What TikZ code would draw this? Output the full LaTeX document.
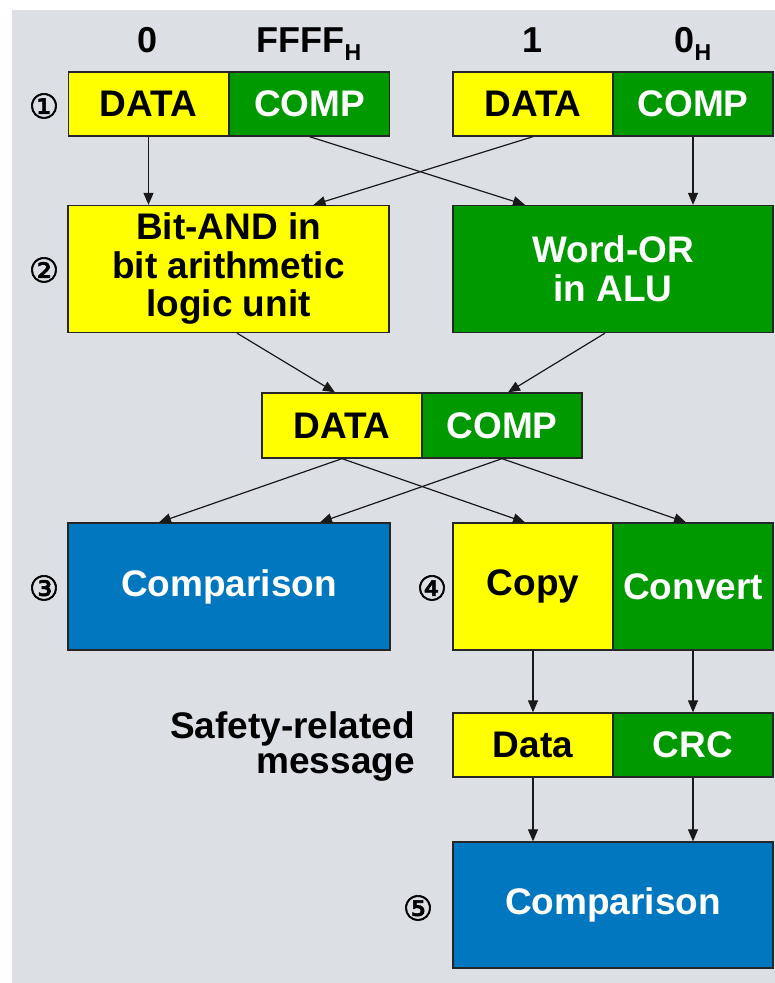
\documentclass[tikz,border=0pt]{standalone}
\usepackage{fontspec}
\setmainfont{Liberation Sans}
\newfontfamily\circfont[FakeBold=1.8]{DejaVu Sans}
\usetikzlibrary{arrows.meta}
\definecolor{bggray}{RGB}{220,224,228}
\definecolor{boxyellow}{RGB}{255,255,0}
\definecolor{boxgreen}{RGB}{0,153,0}
\definecolor{boxblue}{RGB}{0,119,190}
\newcommand{\subH}{\raisebox{-8pt}{\fontsize{23}{23}\selectfont H}}

\begin{document}
\begin{tikzpicture}[x=1pt,y=-1pt,
  box/.style={draw=black!85, line width=1.3pt, rectangle, inner sep=0pt,
    font=\fontsize{37}{38.5}\selectfont\bfseries, align=center},
  ybox/.style={box, fill=boxyellow, text=black},
  gbox/.style={box, fill=boxgreen, text=white},
  bbox/.style={box, fill=boxblue, text=white},
  half/.style={minimum width=160pt, minimum height=64pt},
  big/.style={minimum width=321pt, minimum height=127pt},
  arr/.style={line width=1.2pt, draw=black!90, -{Triangle[length=12pt,width=10pt]}},
  num/.style={font=\circfont\fontsize{34}{34}\selectfont, inner sep=0pt},
  toplbl/.style={font=\fontsize{36}{36}\selectfont\bfseries, anchor=base, inner sep=0pt},
  sidelbl/.style={font=\fontsize{37}{35}\selectfont\bfseries, align=right, inner sep=0pt}
]
% canvas
\useasboundingbox (0,0) rectangle (775,983);
\fill[white] (0,0) rectangle (775,983);
\fill[bggray] (12,10) rectangle (775,983);

% input values
\node[toplbl] (v0) at (148,52) {0};
\node[toplbl] (vF) at (309,52) {FFFF\subH};
\node[toplbl] (v1) at (533,52) {1};
\node[toplbl] (v0H) at (693,52) {0\subH};

% step 1: two data/complement pairs
\node[num] (n1) at (44,106) {①};
\node[ybox, half] (d1) at (148.5,104) {DATA};
\node[gbox, half] (c1) at (309.5,104) {COMP};
\node[ybox, half] (d2) at (533,104) {DATA};
\node[gbox, half] (c2) at (693,104) {COMP};

% step 2: logic operations
\node[num] (n2) at (44,270) {②};
\node[ybox, big] (band) at (228.5,269) {Bit-AND in\\bit arithmetic\\logic unit};
\node[gbox, big, minimum width=320pt] (wor) at (613,269) {Word-OR\\in ALU};

% combined pair
\node[ybox, half, minimum height=65pt] (d3) at (342,425.5) {DATA};
\node[gbox, half, minimum height=65pt] (c3) at (502,425.5) {COMP};

% steps 3 and 4
\node[num] (n3) at (44,588) {③};
\node[bbox, big, minimum width=322pt] (cmp1) at (229,586.5) {Comparison};
\node[num] (n4) at (432,588) {④};
\node[ybox, half, minimum height=127pt] (copy) at (533,586.5) {Copy};
\node[gbox, half, minimum height=127pt] (conv) at (693,586.5) {Convert};

% safety-related message
\node[sidelbl, anchor=east] (msg) at (415,747) {Safety-related\\message};
\node[ybox, half] (d5) at (533,745) {Data};
\node[gbox, half] (crc) at (693,745) {CRC};

% step 5
\node[num] (n5) at (418,908) {⑤};
\node[bbox, big, minimum width=320pt, minimum height=126pt] (cmp2) at (613,905) {Comparison};

% connectors: step 1 to step 2
\draw[arr] (d1.south) -- (d1.south |- band.north);
\draw[arr] (c2.south) -- (c2.south |- wor.north);
\draw[arr] (c1.south) -- ([xshift=-8pt]d2.south |- wor.north);
\draw[arr] (d2.south) -- ([xshift=4pt]c1.south |- band.north);

% step 2 to combined pair
\draw[arr] ([xshift=8.5pt]band.south) -- ([xshift=-7pt]d3.north);
\draw[arr] ([xshift=-8pt]wor.south) -- ([xshift=6pt]c3.north);

% combined pair to steps 3 and 4
\draw[arr] (d3.south) -- ([xshift=-70pt]cmp1.north);
\draw[arr] (d3.south) -- ([xshift=-8pt]copy.north);
\draw[arr] (c3.south) -- ([xshift=91pt]cmp1.north);
\draw[arr] (c3.south) -- ([xshift=-7pt]conv.north);

% step 4 to message to step 5
\draw[arr] (copy.south) -- (d5.north);
\draw[arr] (conv.south) -- (crc.north);
\draw[arr] (d5.south) -- (d5.south |- cmp2.north);
\draw[arr] (crc.south) -- (crc.south |- cmp2.north);
\end{tikzpicture}
\end{document}
